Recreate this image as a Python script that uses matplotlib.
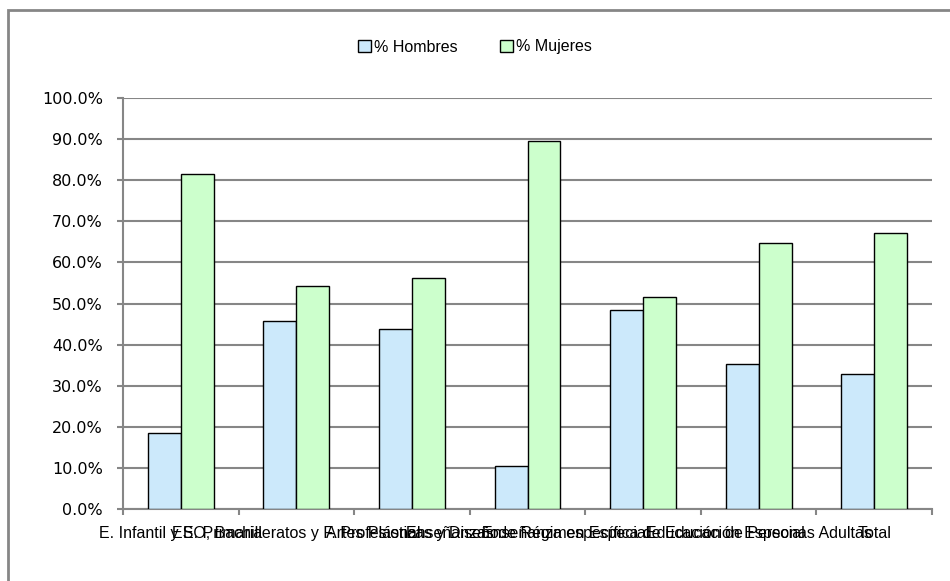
import matplotlib
matplotlib.use('Agg')
import matplotlib.pyplot as plt
import matplotlib.transforms as mtransforms
import numpy as np
from matplotlib.patches import Rectangle
from matplotlib.ticker import PercentFormatter

# Data
categorias = [
    'E. Infantil y E. Primaria',
    'ESO, Bachilleratos y F. Profesional',
    'Artes Plásticas y Diseño',
    'Enseñanzas de Régimen Especial',
    'Enseñanza específica de Educación Especial',
    'Educación de Personas Adultas',
    'Total',
]
pct_hombres = [18.6, 45.8, 43.7, 10.4, 48.3, 35.2, 32.8]
pct_mujeres = [81.4, 54.2, 56.3, 89.6, 51.7, 64.8, 67.2]
series_labels = ['% Hombres', '% Mujeres']

grey = '#868686'

fig = plt.figure(figsize=(9.5, 5.81), dpi=100)
ax = fig.add_axes([123 / 950, 1 - 509 / 581, (932 - 123) / 950, (509 - 98) / 581])

x = np.arange(len(categorias))
w = 0.285
ax.bar(x - w / 2, pct_hombres, w, color='#CCE9FB', edgecolor='black', linewidth=1,
       label=series_labels[0], zorder=3)
ax.bar(x + w / 2, pct_mujeres, w, color='#CCFFCC', edgecolor='black', linewidth=1,
       label=series_labels[1], zorder=3)

ax.set_xlim(-0.5, len(categorias) - 0.5)
ax.set_ylim(0, 100)
ax.set_yticks(np.arange(0, 101, 10))
ax.yaxis.set_major_formatter(PercentFormatter(decimals=1))
ax.grid(axis='y', color=grey, linewidth=1.5, zorder=0)

# category labels on a common baseline (they overlap, as in the original)
ax.set_xticks(np.arange(-0.5, len(categorias)))
ax.set_xticklabels([])
trans = mtransforms.blended_transform_factory(ax.transData, ax.transAxes)
for i, cat in enumerate(categorias):
    ax.text(i, -29 / 411, cat, transform=trans, ha='center', va='baseline',
            family='Liberation Sans', fontsize=11.5)

ax.tick_params(axis='x', length=4.5, width=1.5, color=grey)
ax.tick_params(axis='y', length=4.5, width=1.5, color=grey, labelsize=11.5, pad=10)

for side in ['top', 'right']:
    ax.spines[side].set_visible(False)
for side in ['left', 'bottom']:
    ax.spines[side].set_color(grey)
    ax.spines[side].set_linewidth(1.5)

fig.legend(loc='center', bbox_to_anchor=(0.5, 1 - 47 / 581), ncol=2, frameon=False,
           prop={'family': 'Liberation Sans', 'size': 11.5}, handlelength=0.85,
           handleheight=0.85, handletextpad=0.2, columnspacing=2.6)

# outer chart border
fig.patches.append(Rectangle((8 / 950, -0.1), 1.2, 1.1 - 10 / 581, transform=fig.transFigure,
                             fill=False, edgecolor=grey, linewidth=2))

plt.savefig('out.png', dpi=100)
plt.close()
